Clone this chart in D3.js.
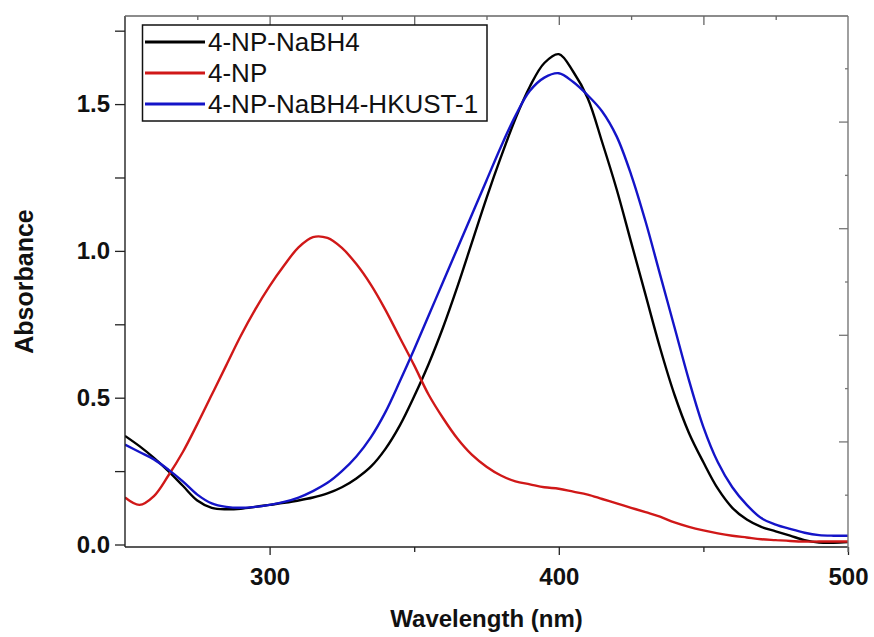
<!DOCTYPE html>
<html>
<head>
<meta charset="utf-8">
<script src="https://cdn.jsdelivr.net/npm/d3@7"></script>
<style>
  html, body { margin: 0; padding: 0; background: #fff; }
  svg { display: block; }
  text { font-family: "Liberation Sans", Arial, sans-serif; }
</style>
</head>
<body>
<svg id="chart" width="874" height="637"></svg>
<script>
// ---------------- data ----------------
const wavelengths = [250,255,260,265,270,275,280,285,290,295,300,305,310,315,320,325,330,335,340,345,350,355,360,365,370,375,380,385,390,395,400,405,410,415,420,425,430,435,440,445,450,455,460,465,470,475,480,485,490,495,500];

const nabh4 = [0.37,0.335,0.295,0.25,0.2,0.15,0.125,0.12,0.122,0.128,0.135,0.142,0.15,0.16,0.174,0.195,0.225,0.265,0.325,0.405,0.505,0.615,0.74,0.88,1.03,1.18,1.32,1.45,1.56,1.64,1.67,1.61,1.52,1.37,1.21,1.03,0.85,0.67,0.51,0.38,0.28,0.19,0.125,0.085,0.06,0.045,0.03,0.015,0.007,0.006,0.008];

const np = [0.16,0.135,0.165,0.235,0.315,0.41,0.51,0.61,0.71,0.8,0.88,0.95,1.012,1.047,1.044,1.01,0.955,0.885,0.8,0.705,0.61,0.51,0.43,0.36,0.305,0.265,0.235,0.215,0.205,0.195,0.19,0.18,0.17,0.155,0.14,0.125,0.11,0.095,0.075,0.06,0.048,0.038,0.03,0.024,0.018,0.015,0.012,0.01,0.01,0.01,0.01];

const hkust = [0.34,0.315,0.29,0.255,0.215,0.17,0.14,0.128,0.125,0.128,0.135,0.145,0.16,0.182,0.21,0.25,0.3,0.365,0.45,0.555,0.665,0.78,0.895,1.01,1.125,1.24,1.355,1.46,1.545,1.59,1.605,1.575,1.53,1.475,1.39,1.26,1.1,0.92,0.74,0.56,0.4,0.28,0.195,0.135,0.09,0.068,0.053,0.04,0.032,0.03,0.03];

const seriesNames = ["4-NP-NaBH4", "4-NP", "4-NP-NaBH4-HKUST-1"];
const seriesColors = ["#000000", "#d01818", "#1414c8"];

const xMajorTicks = [300, 400, 500];
const xMinorTicks = [350, 450];
const xTopMajor = [300, 350, 400, 450];
const xTopMinor = [275, 325, 375, 425, 475];
const yMajorTicks = [0.0, 0.5, 1.0, 1.5];
const yMinorTicks = [0.25, 0.75, 1.25, 1.75];
const rightMajor = [2, 4, 6, 8];
const rightMinor = [1, 3, 5, 7, 9];

const xTitle = "Wavelength (nm)";
const yTitle = "Absorbance";

// ---------------- layout ----------------
const L = 125, R = 848, T = 16, B = 547;
const svg = d3.select("#chart");

const x = d3.scaleLinear().domain([250, 500]).range([L, R]);
const y = d3.scaleLinear().domain([-0.0085, 1.80]).range([B, T]);
const yR = d3.scaleLinear().domain([0, 10]).range([548, 15]);

const series = [nabh4, np, hkust].map((vals, i) => ({
  name: seriesNames[i], color: seriesColors[i],
  pts: wavelengths.map((w, j) => [w, vals[j]])
}));

const line = d3.line().x(d => x(d[0])).y(d => y(d[1])).curve(d3.curveCatmullRom.alpha(0.5));

const defs = svg.append("defs");
defs.append("clipPath").attr("id", "clip").append("rect")
  .attr("x", L).attr("y", T).attr("width", R - L).attr("height", B - T);

const plot = svg.append("g").attr("clip-path", "url(#clip)");
series.forEach(s => {
  plot.append("path").datum(s.pts)
    .attr("d", line).attr("fill", "none")
    .attr("stroke", s.color).attr("stroke-width", 2.4)
    .attr("stroke-linejoin", "round");
});

// ---------------- axes ----------------
function styleAxis(g, color) {
  g.select(".domain").attr("stroke", color).attr("stroke-width", 1.4);
  g.selectAll(".tick line").attr("stroke", color).attr("stroke-width", 1.3);
}

// bottom
const gB = svg.append("g").attr("transform", `translate(0,${B})`)
  .call(d3.axisBottom(x).tickValues(xMajorTicks).tickSize(8).tickPadding(13).tickSizeOuter(0).tickFormat(d3.format("d")));
styleAxis(gB, "#222");
gB.selectAll("text").attr("font-size", 24).attr("font-weight", "bold").attr("fill", "#111");
const gBm = svg.append("g").attr("transform", `translate(0,${B})`)
  .call(d3.axisBottom(x).tickValues(xMinorTicks).tickSize(5).tickSizeOuter(0).tickFormat(""));
styleAxis(gBm, "#222");
gBm.select(".domain").remove();

// left
const gL = svg.append("g").attr("transform", `translate(${L},0)`)
  .call(d3.axisLeft(y).tickValues(yMajorTicks).tickSize(10).tickPadding(5).tickSizeOuter(0).tickFormat(d3.format(".1f")));
styleAxis(gL, "#222");
gL.selectAll("text").attr("font-size", 24).attr("font-weight", "bold").attr("fill", "#111");
const gLm = svg.append("g").attr("transform", `translate(${L},0)`)
  .call(d3.axisLeft(y).tickValues(yMinorTicks).tickSize(10).tickSizeOuter(0).tickFormat(""));
styleAxis(gLm, "#222");
gLm.select(".domain").remove();

// top (inward ticks)
const gT = svg.append("g").attr("transform", `translate(0,${T})`)
  .call(d3.axisTop(x).tickValues(xTopMajor).tickSize(-9).tickSizeOuter(0).tickFormat(""));
styleAxis(gT, "#666");
const gTm = svg.append("g").attr("transform", `translate(0,${T})`)
  .call(d3.axisTop(x).tickValues(xTopMinor).tickSize(-4).tickSizeOuter(0).tickFormat(""));
styleAxis(gTm, "#666");
gTm.select(".domain").remove();
gT.select(".domain").attr("d", `M${L},0H${R}`);

// right (inward ticks)
const gR = svg.append("g").attr("transform", `translate(${R},0)`)
  .call(d3.axisRight(yR).tickValues(rightMajor).tickSize(-9).tickSizeOuter(0).tickFormat(""));
styleAxis(gR, "#777");
gR.select(".domain").attr("d", `M0,${T}V${B + 5}`);
const gRm = svg.append("g").attr("transform", `translate(${R},0)`)
  .call(d3.axisRight(yR).tickValues(rightMinor).tickSize(-3).tickSizeOuter(0).tickFormat(""));
styleAxis(gRm, "#777");
gRm.select(".domain").remove();

gL.select(".domain").attr("d", `M0,${T}V${B}`);
gB.select(".domain").attr("d", `M${L},0H${R}`);

// titles
svg.append("text").attr("x", (L + R) / 2).attr("y", 627)
  .attr("text-anchor", "middle").attr("font-size", 24).attr("font-weight", "bold")
  .attr("fill", "#111").text(xTitle);
svg.append("text").attr("transform", `translate(33,${(T + B) / 2}) rotate(-90)`)
  .attr("text-anchor", "middle").attr("font-size", 25).attr("font-weight", "bold")
  .attr("fill", "#111").text(yTitle);

// ---------------- legend ----------------
const leg = svg.append("g");
leg.append("rect").attr("x", 142.5).attr("y", 25).attr("width", 344.5).attr("height", 96)
  .attr("fill", "#fff").attr("stroke", "#111").attr("stroke-width", 1.5);
series.forEach((s, i) => {
  const yy = 42 + i * 31;
  leg.append("line").attr("x1", 145).attr("x2", 205).attr("y1", yy).attr("y2", yy)
    .attr("stroke", s.color).attr("stroke-width", 3);
  leg.append("text").attr("x", 208).attr("y", yy + 9).attr("font-size", 26)
    .attr("fill", "#111").text(s.name);
});
</script>
</body>
</html>
